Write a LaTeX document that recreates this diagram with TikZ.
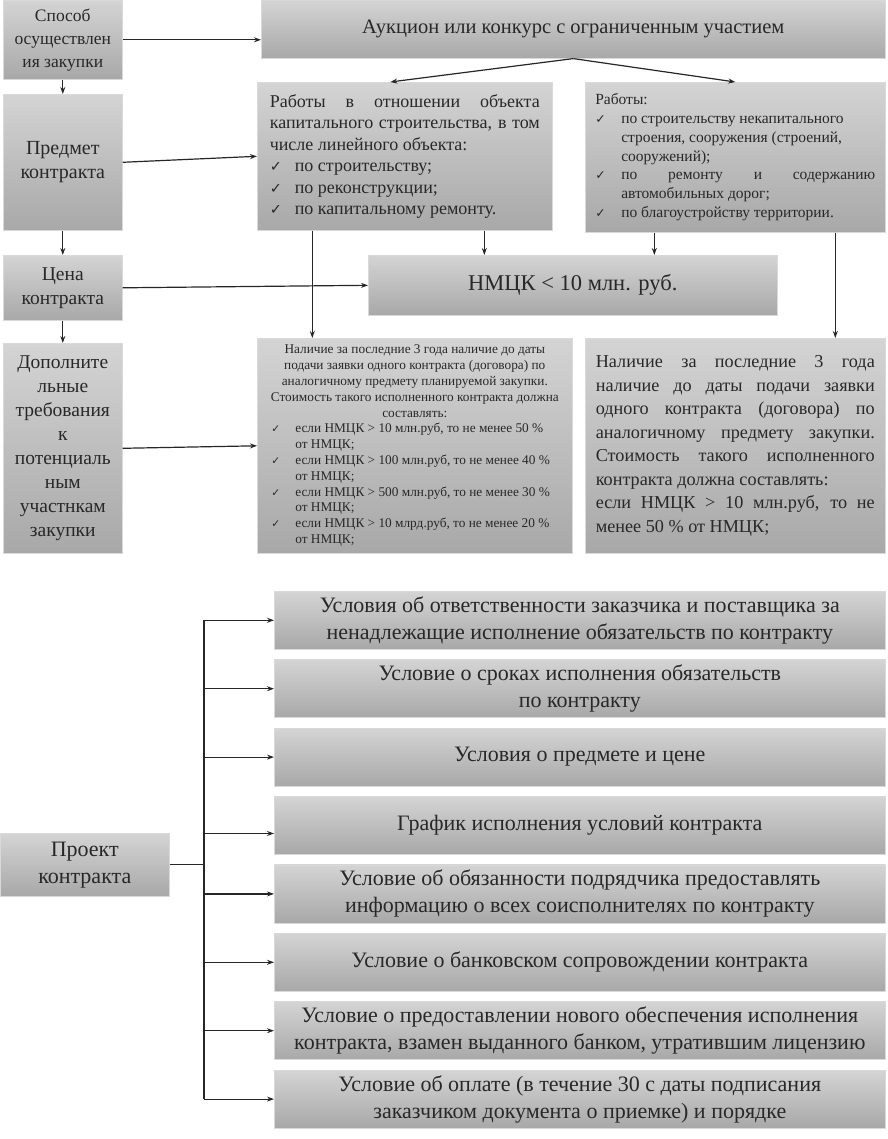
\documentclass[tikz,border=0pt]{standalone}
\usepackage{fontspec}
\usepackage{graphicx}
\setmainfont{Liberation Serif}
\newfontfamily\symf{DejaVu Sans}
\usetikzlibrary{arrows.meta}
\definecolor{gtop}{RGB}{212,212,212}
\definecolor{gbot}{RGB}{168,168,168}
\definecolor{txt}{RGB}{40,40,40}
\newcommand\fs[2]{\fontsize{#1pt}{#2pt}\selectfont}
\newlength\ckw
\newcommand\ck{{\symf\scalebox{0.8}{✓}}}
\newcommand\lnJ[1]{\noindent\makebox[\linewidth][s]{#1}\par}
\newcommand\lnR[1]{\noindent\makebox[\linewidth][l]{#1}\par}
\newcommand\lnC[1]{\noindent\makebox[\linewidth][c]{#1}\par}
\newcommand\lnK[1]{\noindent\makebox[\linewidth][l]{\makebox[\ckw][l]{\ck}#1}\par}
\newcommand\lnKJ[1]{\noindent\makebox[\ckw][l]{\ck}\makebox[\dimexpr\linewidth-\ckw\relax][s]{#1}\par}
\newcommand\lnI[1]{\noindent\makebox[\linewidth][l]{\hspace*{\ckw}#1}\par}
\tikzset{
  gbox/.style={anchor=north west, inner sep=0pt, top color=gtop, bottom color=gbot,
    draw=gray!30, line width=0.6pt, text=txt},
  arr/.style={-{Stealth[length=7pt,width=5pt]}, line width=1.2pt, black!85},
  ln/.style={line width=1.2pt, black!85}
}
\begin{document}
\begin{tikzpicture}[x=1pt,y=-1pt]
\useasboundingbox (0,0) rectangle (887,1139);
% left column
\node[gbox, minimum width=119pt, minimum height=79pt, align=center, font=\fs{17.5}{23}] (A) at (3,0) {Способ\\осуществлен\\ия закупки};
\node[gbox, minimum width=119pt, minimum height=136pt, align=center, font=\fs{20}{24}] (B) at (3,94) {Предмет\\контракта};
\node[gbox, minimum width=119pt, minimum height=65pt, align=center, font=\fs{19.5}{24}] (F) at (3,255) {Цена\\контракта};
\node[gbox, minimum width=119pt, minimum height=210pt, align=center, font=\fs{19.5}{24}] (H) at (3,343) {Дополните\\льные\\требования\\к\\потенциаль\\ным\\участнкам\\закупки};
% top
\node[gbox, minimum width=624pt, minimum height=58pt, font=\fs{20.5}{24}] (C) at (261,0) {Аукцион или конкурс с ограниченным участием};
\node[gbox, minimum width=295pt, minimum height=148pt] (D) at (257,82) {\parbox{270pt}{\fs{18}{21.5}\setlength\ckw{25pt}%
\lnJ{Работы в отношении объекта}\lnJ{капитального строительства, в том}\lnR{числе линейного объекта:}%
\lnK{по строительству;}\lnK{по реконструкции;}\lnK{по капитальному ремонту.}}};
\node[gbox, minimum width=300pt, minimum height=150pt] (E) at (585,82) {\parbox{280pt}{\fs{15.5}{18.8}\setlength\ckw{26pt}%
\lnR{Работы:}\lnK{по строительству некапитального}\lnI{строения, сооружения (строений,}\lnI{сооружений);}%
\lnKJ{по ремонту и содержанию}\lnI{автомобильных дорог;}\lnK{по благоустройству территории.}}};
\node[gbox, minimum width=409pt, minimum height=60pt, font=\fs{22.5}{24}] (G) at (368,255) {НМЦК < 10 млн. руб.};
\node[gbox, minimum width=315pt, minimum height=215pt] (I) at (257,338) {\parbox{287pt}{\fs{13.3}{15.8}\setlength\ckw{24pt}%
\lnC{Наличие за последние 3 года наличие до даты}\lnC{подачи заявки одного контракта (договора) по}%
\lnC{аналогичному предмету планируемой закупки.}\lnC{Стоимость такого исполненного контракта должна}\lnC{составлять:}%
\lnK{если НМЦК > 10 млн.руб, то не менее 50 \%}\lnI{от НМЦК;}%
\lnK{если НМЦК > 100 млн.руб, то не менее 40 \%}\lnI{от НМЦК;}%
\lnK{если НМЦК > 500 млн.руб, то не менее 30 \%}\lnI{от НМЦК;}%
\lnK{если НМЦК > 10 млрд.руб, то не менее 20 \%}\lnI{от НМЦК;}}};
\node[gbox, minimum width=300pt, minimum height=215pt] (J) at (585,338) {\parbox{279pt}{\fs{18.2}{23.5}%
\lnJ{Наличие за последние 3 года}\lnJ{наличие до даты подачи заявки}\lnJ{одного контракта (договора) по}%
\lnJ{аналогичному предмету закупки.}\lnJ{Стоимость такого исполненного}\lnR{контракта должна составлять:}%
\lnJ{если НМЦК > 10 млн.руб, то не}\lnR{менее 50 \% от НМЦК;}}};
% top connectors
\draw[arr] (A.east) -- (A.east -| C.west);
\draw[arr] (A.south) -- (B.north);
\draw[arr] (B.south) -- (F.north);
\draw[arr] (F.south) -- (H.north);
\draw[arr] (B.east) -- (D.west);
\draw[arr] (F.east) -- (G.west);
\draw[arr] (H.east) -- (I.west);
\draw[arr] (C.south) -- ([xshift=-14.5pt]D.north);
\draw[arr] (C.south) -- (E.north);
\draw[arr] ([xshift=-92.5pt]D.south) -- ([xshift=-92.5pt]D.south |- I.north);
\draw[arr] ([xshift=79.5pt]D.south) -- ([xshift=79.5pt]D.south |- G.north);
\draw[arr] ([xshift=-81pt]E.south) -- ([xshift=-81pt]E.south |- G.north);
\draw[arr] ([xshift=100pt]E.south) -- ([xshift=100pt]E.south |- J.north);
% bottom
\node[gbox, minimum width=169pt, minimum height=63pt, align=center, font=\fs{22}{27}] (P) at (0,833) {Проект\\контракта};
\tikzset{rb/.style={gbox, minimum width=611pt, minimum height=58pt, align=center, font=\fs{22}{27}}}
\node[rb] (R1) at (274,591) {Условия об ответственности заказчика и поставщика за\\ненадлежащие исполнение обязательств по контракту};
\node[rb] (R2) at (274,659.4) {Условие о сроках исполнения обязательств\\по контракту};
\node[rb] (R3) at (274,727.8) {Условия о предмете и цене};
\node[rb] (R4) at (274,796.2) {График исполнения условий контракта};
\node[rb] (R5) at (274,864.6) {Условие об обязанности подрядчика предоставлять\\информацию о всех соисполнителях по контракту};
\node[rb] (R6) at (274,933) {Условие о банковском сопровождении контракта};
\node[rb] (R7) at (274,1001.4) {Условие о предоставлении нового обеспечения исполнения\\контракта, взамен выданного банком, утратившим лицензию};
\node[rb] (R8) at (274,1069.8) {Условие об оплате (в течение 30 с даты подписания\\заказчиком документа о приемке) и порядке};
\coordinate (trunk) at (204,0);
\draw[ln] (P.east) -- (P.east -| trunk);
\draw[ln] (R1.west -| trunk) -- (R8.west -| trunk);
\foreach \i in {1,2,3,5,6,7,8} \draw[arr] (R\i.west -| trunk) -- (R\i.west);
\draw[arr] ([yshift=-8pt]R4.west -| trunk) -- ([yshift=-8pt]R4.west);
\end{tikzpicture}
\end{document}
